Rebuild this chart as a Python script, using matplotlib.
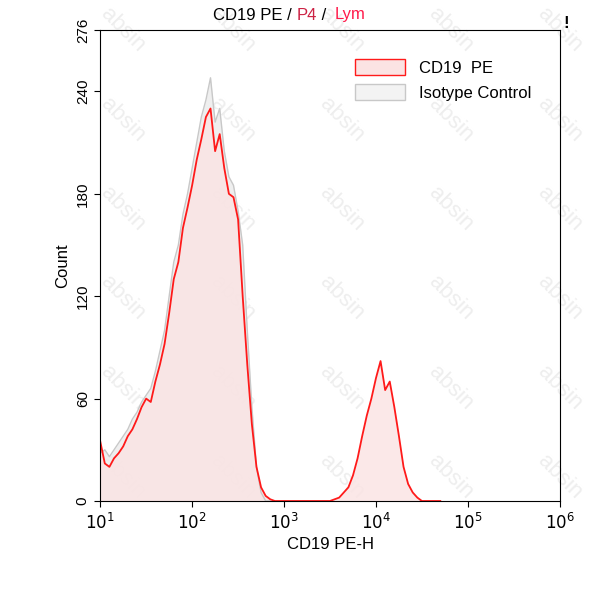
import numpy as np
import matplotlib.pyplot as plt
from matplotlib.patches import Patch

plt.rcParams['font.family'] = ['Liberation Sans', 'DejaVu Sans']

# --- data (log10 channel, counts) ---
red_x1 = np.arange(1.0, 2.96, 0.05)
red_y1 = [35, 22, 20, 25, 28, 32, 38, 42, 48, 55, 60, 58, 70, 80, 92, 110, 130, 140, 160, 172,
          185, 200, 212, 225, 230, 205, 215, 195, 180, 178, 165, 120, 80, 45, 20, 8, 3, 1, 0, 0]
red_x2 = np.arange(3.0, 4.71, 0.05)
red_y2 = [0, 0, 0, 0, 0, 0, 0, 0, 0, 0, 0, 1, 2, 5, 8, 15, 25, 38, 50, 60,
          72, 82, 65, 70, 55, 38, 20, 10, 5, 2, 0, 0, 0, 0, 0]
grey_x = np.arange(1.0, 2.86, 0.05)
grey_y = [28, 30, 26, 30, 34, 38, 42, 48, 52, 58, 62, 66, 76, 88, 100, 120, 140, 150, 168, 180,
          195, 210, 225, 235, 248, 222, 230, 205, 190, 185, 170, 150, 100, 55, 20, 5, 0, 0]

red_x = 10 ** np.concatenate([red_x1, red_x2])
red_y = np.array(red_y1 + red_y2)
grey_x = 10 ** grey_x
grey_y = np.array(grey_y)

fig = plt.figure(figsize=(5.93, 6.0), dpi=100)
ax = fig.add_axes([0.169, 0.165, 0.775, 0.785])

ax.fill_between(grey_x, grey_y, color='#ebebeb', alpha=0.8, lw=0)
ax.plot(grey_x, grey_y, color='#c8c8c8', lw=1)
ax.fill_between(red_x, red_y, color='#fbe3e3', alpha=0.8, lw=0)
ax.plot(red_x, red_y, color='#ff1a1a', lw=1.3)

# watermark
for xx in np.linspace(0.05, 1.0, 5):
    for yy in np.linspace(0.05, 1.0, 6):
        ax.text(xx, yy, 'absin', transform=ax.transAxes, rotation=-45, fontsize=16,
                color='#dddddd', alpha=0.5, ha='center', va='center', zorder=0)

ax.set_xscale('log')
ax.set_xlim(10, 1e6)
ax.set_ylim(0, 276)
ax.set_xticks([1e1, 1e2, 1e3, 1e4, 1e5, 1e6])
ax.set_xticklabels(['$10^1$', '$10^2$', '$10^3$', '$10^4$', '$10^5$', '$10^6$'], fontsize=12)
ax.minorticks_off()
ax.set_yticks([0, 60, 120, 180, 240, 276])
ax.set_yticklabels(['0', '60', '120', '180', '240', '276'], rotation=90, va='center', fontsize=11)
ax.tick_params(direction='out', length=4)
ax.set_xlabel('CD19 PE-H', fontsize=12)
ax.set_ylabel('Count', fontsize=12)

handles = [Patch(facecolor='#fbe3e3', edgecolor='#ff1a1a', label='CD19  PE'),
           Patch(facecolor='#f3f3f3', edgecolor='#c8c8c8', label='Isotype Control')]
ax.legend(handles=handles, loc='upper right', bbox_to_anchor=(0.97, 0.97), frameon=False,
          fontsize=12, handlelength=3, handleheight=1.1)

fig.text(0.50, 0.975, 'CD19 PE / ', ha='right', va='center', fontsize=12)
fig.text(0.50, 0.975, 'P4', ha='left', va='center', fontsize=12, color='#cc2244')
fig.text(0.535, 0.975, ' / ', ha='left', va='center', fontsize=12)
fig.text(0.565, 0.975, 'Lym', ha='left', va='center', fontsize=12, color='#ff1a4a')
fig.text(0.955, 0.96, '!', ha='center', va='center', fontsize=12, fontweight='bold')

fig.savefig('out.png', dpi=100)
